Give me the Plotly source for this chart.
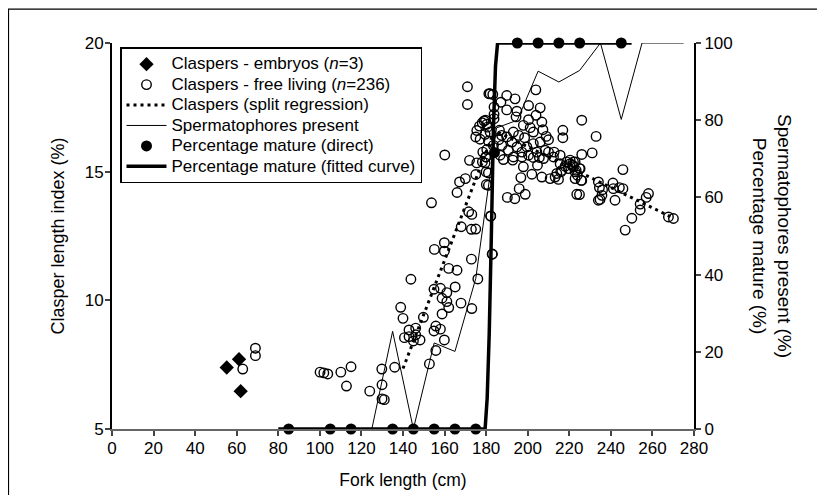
import plotly.graph_objects as go

# ---------------- data ----------------
embryo_x = [55.2, 61.1, 61.9]
embryo_y = [7.39, 7.71, 6.47]

free_x = [62.9, 69.0, 69.0, 100.1, 101.9, 103.8, 110.1, 115.0, 112.8, 124.0, 129.8, 129.9, 129.9, 131.0, 136.0,
          138.9, 140.0, 140.7, 142.9, 142.9, 145.0, 146.1, 146.1, 148.2, 143.8, 149.8, 152.7, 155.8, 154.9, 155.8,
          158.0, 159.9, 158.8, 162.0, 161.1, 158.8, 167.9, 173.1, 154.9, 158.0, 161.1, 165.1, 155.1, 159.9, 159.9,
          162.0, 166.0, 172.9, 176.0, 153.7, 160.1, 166.0, 167.2, 170.0, 175.0, 180.1, 171.6, 173.1, 168.0, 172.9,
          175.0, 182.2, 182.9, 172.0, 175.5, 178.2, 179.7, 181.1, 171.0, 171.0, 181.3, 179.7, 178.1, 176.8, 175.5,
          175.0, 177.1, 179.5, 180.6,
          181.9, 183.2, 189.9, 193.9, 203.9, 187.1, 189.9, 194.8, 200.4, 206.0, 183.8, 183.8, 194.4, 179.0, 180.3,
          183.8, 200.4, 204.0, 206.8, 197.9, 201.2, 216.9, 216.9, 186.4, 187.5, 193.1, 181.9, 181.1, 189.9, 192.4,
          195.6, 198.5, 202.7, 207.3, 208.9, 210.0, 186.1, 183.5, 187.5, 194.8, 199.6, 202.7, 206.0, 190.7, 197.2,
          204.4, 208.4, 180.3, 178.4, 186.7, 193.1, 200.4, 205.6, 210.0, 212.7, 215.6, 180.0, 188.3, 192.8, 197.2,
          202.7, 207.6, 212.4, 220.4, 222.8, 179.5, 197.9, 204.7, 215.6, 218.0, 221.7, 216.4, 214.0, 206.8, 202.0,
          210.8, 223.9, 196.7, 180.0, 181.1, 195.9, 198.8, 190.2, 193.8, 223.6, 182.2, 183.0,
          213.2, 214.8, 215.9, 218.8, 220.4, 222.0, 219.6, 223.3, 225.2, 225.7,
          226.0, 232.9, 226.0, 231.0, 222.0, 224.9, 222.8, 222.8, 226.0, 224.9, 245.8, 234.0, 234.5, 236.0, 235.7,
          234.8, 234.0, 241.0, 241.2, 244.1, 245.8, 242.0, 258.1, 257.0, 254.1, 254.1, 250.1, 246.9, 267.7, 270.1]
free_y = [7.33, 8.14, 7.85, 7.21, 7.18, 7.14, 7.21, 7.42, 6.67, 6.47, 7.33, 6.72, 6.17, 6.14, 7.40,
          9.73, 9.30, 8.55, 8.85, 8.59, 8.42, 8.92, 8.66, 8.46, 10.82, 9.34, 7.53, 8.05, 8.81, 9.00,
          8.88, 8.46, 9.47, 9.72, 9.95, 10.08, 9.89, 9.68, 10.43, 10.47, 10.30, 10.52, 11.98, 11.91, 12.24,
          11.24, 11.17, 11.60, 10.83, 13.79, 15.65, 14.19, 14.60, 14.73, 14.89, 14.50, 13.44, 13.34, 12.86, 12.76,
          12.77, 13.27, 11.79, 15.44, 15.34, 15.38, 15.57, 14.95, 18.30, 17.61, 18.03, 17.00, 16.90, 16.77, 16.60,
          16.35, 16.26, 16.45, 16.73,
          18.03, 18.00, 17.96, 17.83, 18.18, 17.70, 17.40, 17.35, 17.57, 17.48, 17.51, 17.23, 17.13, 16.97, 16.84,
          17.06, 17.02, 17.19, 16.93, 16.80, 16.71, 16.61, 16.32, 16.61, 16.41, 16.54, 16.54, 16.19, 16.35, 16.15,
          16.41, 16.32, 16.54, 16.63, 16.37, 16.24, 16.24, 16.02, 16.02, 15.96, 15.96, 16.09, 16.15, 15.83, 15.76,
          15.76, 15.83, 15.86, 15.76, 15.64, 15.57, 15.64, 15.55, 15.76, 15.76, 15.64, 15.57, 15.47, 15.45, 15.57,
          15.55, 15.51, 15.57, 15.45, 15.38, 15.34, 15.19, 15.25, 15.31, 15.21, 15.25, 15.05, 14.93, 14.79, 14.90,
          14.73, 14.86, 14.77, 14.99, 14.47, 14.34, 14.12, 14.00, 13.95, 14.12, 13.28, 11.80,
          14.79, 14.70, 14.99, 15.38, 15.31, 15.19, 15.12, 15.05, 15.12, 14.66,
          17.00, 16.37, 15.67, 15.73, 15.38, 15.12, 14.99, 14.73, 14.66, 14.11, 15.08, 14.60, 14.38, 14.30, 14.08,
          13.92, 13.89, 14.56, 14.34, 14.38, 14.34, 13.89, 14.15, 14.00, 13.74, 13.51, 13.19, 12.73, 13.24, 13.18]

reg_x = [140, 184, 270]
reg_y = [7.35, 16.6, 13.2]

sperm_x = [125, 135, 145, 155, 165, 175, 185, 195, 205, 215, 225, 235, 245, 255, 265, 275]
sperm_y = [0, 25.3, 0, 22.3, 20.1, 39.0, 78, 80, 92.7, 89.9, 92.9, 100, 80.2, 100, 100, 100]

mat_x = [85, 105, 115, 135, 145, 155, 165, 175, 184, 195, 205, 215, 225, 245]
mat_y = [0, 0, 0, 0, 0, 0, 0, 0, 71.6, 100, 100, 100, 100, 100]

fit_x = [80, 179.5, 180.5, 181.5, 182.5, 183.5, 184.5, 185.5, 250]
fit_y = [0, 0, 8, 25, 50, 78, 94, 100, 100]

x_ticks = list(range(0, 281, 20))
yl_ticks = [5, 10, 15, 20]
yr_ticks = [0, 20, 40, 60, 80, 100]

# ---------------- figure ----------------
W, H = 825, 495
L, R, T, B = 104, 139, 34.5, 73.7
pw, ph = W - L - R, H - T - B
FONT = "Liberation Sans, Arial, Helvetica, sans-serif"
OFF = 8  # page offset of the figure inside the browser window


def px2paper(px, py):
    """window pixel -> paper coordinates"""
    return (px - OFF - L) / pw, 1 - (py - OFF - T) / ph


def lg(txt):
    return '<span style="font-size:17px">' + txt + '</span>'


fig = go.Figure()

fig.add_trace(go.Scatter(x=fit_x, y=fit_y, yaxis="y2", mode="lines",
                         line=dict(color="black", width=3.5),
                         name=lg("Percentage mature (fitted curve)"), legendrank=6, cliponaxis=False))
fig.add_trace(go.Scatter(x=sperm_x, y=sperm_y, yaxis="y2", mode="lines",
                         line=dict(color="black", width=1),
                         name=lg("Spermatophores present"), legendrank=4, cliponaxis=False))
fig.add_trace(go.Scatter(x=reg_x, y=reg_y, mode="lines",
                         line=dict(color="black", width=3, dash="3px,4px"),
                         name=lg("Claspers (split regression)"), legendrank=3))
fig.add_trace(go.Scatter(x=free_x, y=free_y, mode="markers",
                         marker=dict(symbol="circle-open", size=9.5, color="black", line=dict(width=1.4)),
                         name=lg("Claspers - free living (<i>n</i>=236)"), legendrank=2))
fig.add_trace(go.Scatter(x=embryo_x, y=embryo_y, mode="markers",
                         marker=dict(symbol="diamond", size=11, color="black"),
                         name=lg("Claspers - embryos (<i>n</i>=3)"), legendrank=1))
fig.add_trace(go.Scatter(x=mat_x, y=mat_y, yaxis="y2", mode="markers",
                         marker=dict(symbol="circle", size=11, color="black"),
                         name=lg("Percentage mature (direct)"), legendrank=5, cliponaxis=False))

lx, ly = px2paper(120, 47)
fig.update_layout(
    width=W, height=H,
    margin=dict(l=L, r=R, t=T, b=B, autoexpand=False),
    paper_bgcolor="white", plot_bgcolor="white",
    font=dict(family=FONT, size=17, color="black"),
    showlegend=True,
    legend=dict(x=lx, y=ly, xanchor="left", yanchor="top",
                bgcolor="white", bordercolor="black", borderwidth=1.5,
                font=dict(size=13.4), tracegroupgap=0, itemwidth=40,
                traceorder="normal"),
    xaxis=dict(range=[0, 280], tickvals=x_ticks, ticks="outside", ticklen=5, tickwidth=1.5,
               ticklabelstandoff=-2,
               showline=True, linecolor="#666", linewidth=2, showgrid=False, zeroline=False,
               title=dict(text="Fork length (cm)", standoff=16, font=dict(size=17.5)), tickfont=dict(size=17)),
    yaxis=dict(range=[5, 20], tickvals=yl_ticks, ticks="outside", ticklen=5, tickwidth=1.5,
               ticklabelstandoff=-2,
               showline=True, linecolor="black", linewidth=2, showgrid=False, zeroline=False,
               title=dict(text="Clasper length index (%)", standoff=15, font=dict(size=18)),
               tickfont=dict(size=17)),
    yaxis2=dict(range=[0, 100], tickvals=yr_ticks, overlaying="y", side="right",
                ticks="outside", ticklen=5, tickwidth=1.5,
                showline=True, linecolor="black", linewidth=2, showgrid=False, zeroline=False,
                tickfont=dict(size=17)),
)

ax, ay = px2paper(772, 236)
fig.add_annotation(xref="paper", yref="paper", x=ax, y=ay, textangle=90,
                   xanchor="center", yanchor="middle",
                   text="Spermatophores present (%)<br>Percentage mature (%)",
                   showarrow=False, font=dict(size=19), align="center")

# outer frame
x0, y0 = px2paper(8.5, 8.5)
x1, y1 = px2paper(819.5, 505)
fig.add_shape(type="rect", xref="paper", yref="paper", x0=x0, y0=y1, x1=x1, y1=y0,
              line=dict(color="black", width=1.2), layer="below")

fig.write_html("out.html")
